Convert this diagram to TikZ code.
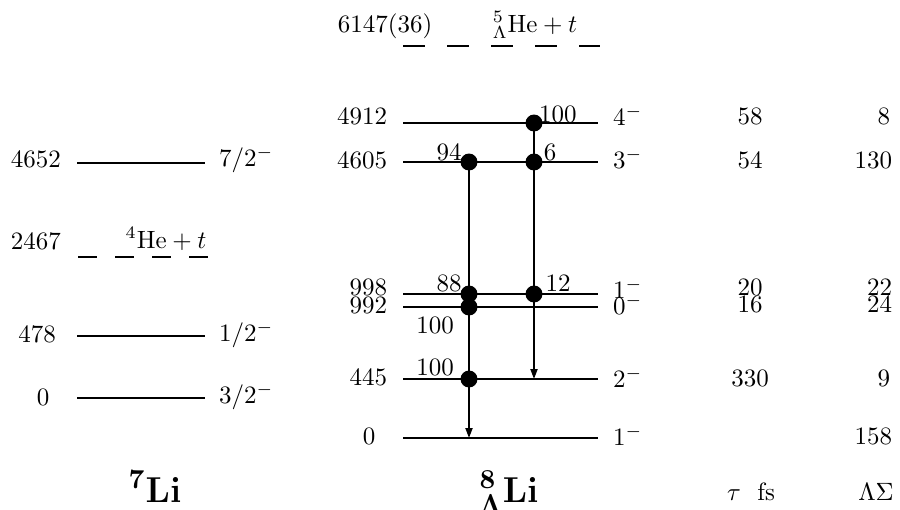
\documentclass[tikz,border=0pt]{standalone}
\usepackage{amsmath, amssymb}
\usepackage{tikz}
\usetikzlibrary{arrows.meta}

\begin{document}
\begin{tikzpicture}[x=0.4pt, y=-0.4pt, line width=0.8pt,
    dot/.style={circle, fill, inner sep=2.4pt},
    lbl/.style={inner sep=0pt},
    nucl/.style={inner sep=0pt, anchor=base, font=\fontsize{15}{18}\selectfont\bfseries},
    decay/.style={-{Triangle[length=4pt, width=2.8pt]}}]
  \useasboundingbox (0,0) rectangle (900,509);

  % 7Li levels
  \coordinate (a0l) at (77,398);  \coordinate (a0r) at (205,398);
  \coordinate (a1l) at (77,336);  \coordinate (a1r) at (205,336);
  \coordinate (a2l) at (78,257);  \coordinate (a2r) at (209,257);
  \coordinate (a3l) at (77,163);  \coordinate (a3r) at (205,163);
  \draw (a0l) -- (a0r);
  \draw (a1l) -- (a1r);
  \draw[dash pattern=on 7.4pt off 7.4pt] (a2l) -- (a2r);
  \draw (a3l) -- (a3r);

  \node[lbl, anchor=east] (ea3) at (62,159) {4652};
  \node[lbl, anchor=east] (ea2) at (62,241) {2467};
  \node[lbl, anchor=east] (ea1) at (57,334) {478};
  \node[lbl]              (ea0) at (43,397) {0};
  \node[lbl, anchor=west] (ja3) at (218,160) {$7/2^-$};
  \node[lbl, anchor=west] (ja1) at (218,335) {$1/2^-$};
  \node[lbl, anchor=west] (ja0) at (218,397) {$3/2^-$};
  \node[lbl, anchor=base] (ta2) at (166,248) {${}^{4}\mathrm{He}+t$};

  % 8Li hypernucleus levels
  \coordinate (b0l) at (403,438); \coordinate (b0r) at (598,438);
  \coordinate (b1l) at (403,379); \coordinate (b1r) at (598,379);
  \coordinate (b2l) at (403,307); \coordinate (b2r) at (598,307);
  \coordinate (b3l) at (403,294); \coordinate (b3r) at (598,294);
  \coordinate (b4l) at (403,162); \coordinate (b4r) at (598,162);
  \coordinate (b5l) at (403,123); \coordinate (b5r) at (598,123);
  \coordinate (b6l) at (403,46);  \coordinate (b6r) at (600,46);
  \foreach \i in {0,...,5}
    \draw (b\i l) -- (b\i r);
  \draw[dash pattern=on 8.8pt off 8.8pt] (b6l) -- (b6r);

  \node[lbl, anchor=east] (eb5) at (388,116) {4912};
  \node[lbl, anchor=east] (eb4) at (388,160) {4605};
  \node[lbl, anchor=east] (eb3) at (388,287) {998};
  \node[lbl, anchor=east] (eb2) at (388,305) {992};
  \node[lbl, anchor=east] (eb1) at (388,377) {445};
  \node[lbl]              (eb0) at (369,436) {0};
  \node[lbl, anchor=base] (eb6) at (385,32)  {6147(36)};
  \node[lbl, anchor=base] (tb6) at (535,32)  {${}^{5}_{\Lambda}\mathrm{He}+t$};

  \node[lbl, anchor=west] (jb5) at (612,116) {$4^-$};
  \node[lbl, anchor=west] (jb4) at (612,159) {$3^-$};
  \node[lbl, anchor=west] (jb3) at (612,289) {$1^-$};
  \node[lbl, anchor=west] (jb2) at (612,305) {$0^-$};
  \node[lbl, anchor=west] (jb1) at (612,378) {$2^-$};
  \node[lbl, anchor=west] (jb0) at (612,436) {$1^-$};

  % lifetimes and Lambda-Sigma
  \node[lbl] (tau5) at (750,116) {58};
  \node[lbl] (tau4) at (750,160) {54};
  \node[lbl] (tau3) at (750,287) {20};
  \node[lbl] (tau2) at (750,304) {16};
  \node[lbl] (tau1) at (750,378) {330};
  \node[lbl, anchor=east] (ls5) at (891,116) {8};
  \node[lbl, anchor=east] (ls4) at (893,160) {130};
  \node[lbl, anchor=east] (ls3) at (893,287) {22};
  \node[lbl, anchor=east] (ls2) at (893,304) {24};
  \node[lbl, anchor=east] (ls1) at (891,378) {9};
  \node[lbl, anchor=east] (ls0) at (893,436) {158};

  % gamma transitions
  \node[dot] (g1) at (534,123) {};
  \node[dot] (g2) at (534,162) {};
  \node[dot] (g3) at (534,294) {};
  \coordinate (g4) at (534,379);
  \node[dot] (h1) at (469,162) {};
  \node[dot] (h2) at (469,294) {};
  \node[dot] (h3) at (469,307) {};
  \node[dot] (h4) at (469,379) {};
  \coordinate (h5) at (469,438);
  \draw[decay] (g1.center) -- (g4);
  \draw[decay] (h1.center) -- (h5);

  \node[lbl, anchor=west] (br1) at (538,114) {100};
  \node[lbl] (br2) at (449,152) {94};
  \node[lbl] (br3) at (550,152) {6};
  \node[lbl] (br4) at (449,283) {88};
  \node[lbl] (br5) at (558,283) {12};
  \node[lbl] (br6) at (435,325) {100};
  \node[lbl] (br7) at (435,367) {100};

  % nuclei
  \node[nucl] (n1) at (155,502) {$\boldsymbol{{}^{7}\mathrm{Li}}$};
  \node[nucl] (n2) at (509,502) {$\boldsymbol{{}^{8}_{\Lambda}\mathrm{Li}}$};
  \node[lbl, anchor=base] (n3) at (751,500) {$\tau$\ \ fs};
  \node[lbl, anchor=base] (n4) at (876,500) {$\Lambda\Sigma$};
\end{tikzpicture}
\end{document}
